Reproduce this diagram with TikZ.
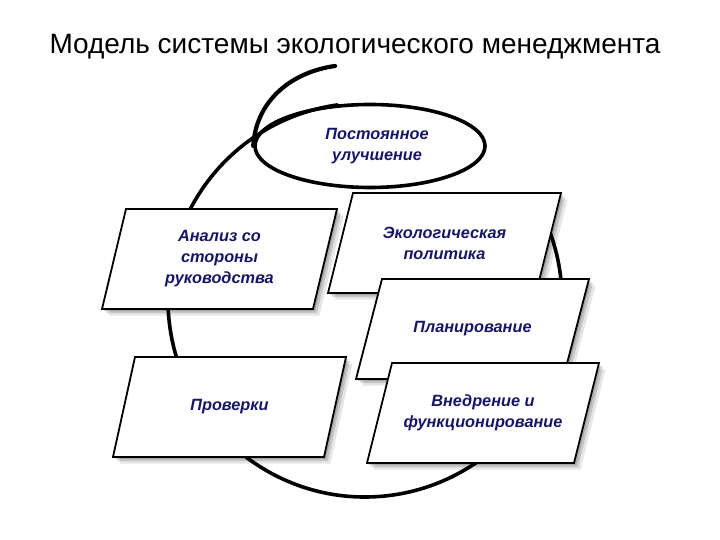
\documentclass[tikz,border=0pt]{standalone}
\usepackage{fontspec}
\setmainfont{Liberation Sans}
\usetikzlibrary{shapes.geometric, shadows}

\definecolor{navy}{RGB}{22,22,102}

\begin{document}
\begin{tikzpicture}[x=1pt, y=-1pt,
	bigline/.style={line width=3.6pt, line cap=round},
	panel/.style={draw=black, line width=1.8pt, fill=white,
		drop shadow={shadow xshift=2pt, shadow yshift=-2pt, fill=black, opacity=.16},
		drop shadow={shadow xshift=4pt, shadow yshift=-4pt, fill=black, opacity=.14},
		drop shadow={shadow xshift=6.5pt, shadow yshift=-6.5pt, fill=black, opacity=.10}},
	boxtext/.style={text=navy, align=center, font=\fontsize{16.3}{21}\selectfont\bfseries\itshape}]
		\useasboundingbox (0,0) rectangle (720,540);
		
		\node (title) at (355,47) {\fontsize{28}{32}\selectfont Модель системы экологического менеджмента};
		
		\coordinate (tail) at (335,66);
		\coordinate (hub) at (365,300);
		
		% spiral of continual improvement
		\draw[bigline] (hub) ++(262:197) arc [start angle=262, end angle=-30, radius=197];
		\node[ellipse, draw, line width=3.6pt, minimum width=230pt, minimum height=83pt, inner sep=0pt,
			boxtext] (improve) at (370,146) {\hspace*{14pt}Постоянное\\\hspace*{14pt}улучшение};
		\draw[bigline, line width=4.2pt] (tail) .. controls (292,72) and (256,100) .. (improve.west);
		
		% boxes: name / top left x / top left y / width / slant / text
		\foreach \nm/\x/\y/\w/\s/\txt in {
			review/126/209/211/24/{Анализ со\\стороны\\руководства},
			audit/135/357/211/22/{Проверки},
			policy/353/193/208/25/{Экологическая\\политика},
			plan/382/279/207/26/{Планирование},
			impl/392/363/207/25/{Внедрение и\\функционирование}}
		{
			\draw[panel] (\x,\y) -- ++(\w,0) -- ++(-\s,100) -- ++(-\w,0) -- cycle;
			\node[boxtext] (\nm) at (\x+\w/2-\s/2,\y+50) {\txt};
		}
	\end{tikzpicture}
\end{document}
